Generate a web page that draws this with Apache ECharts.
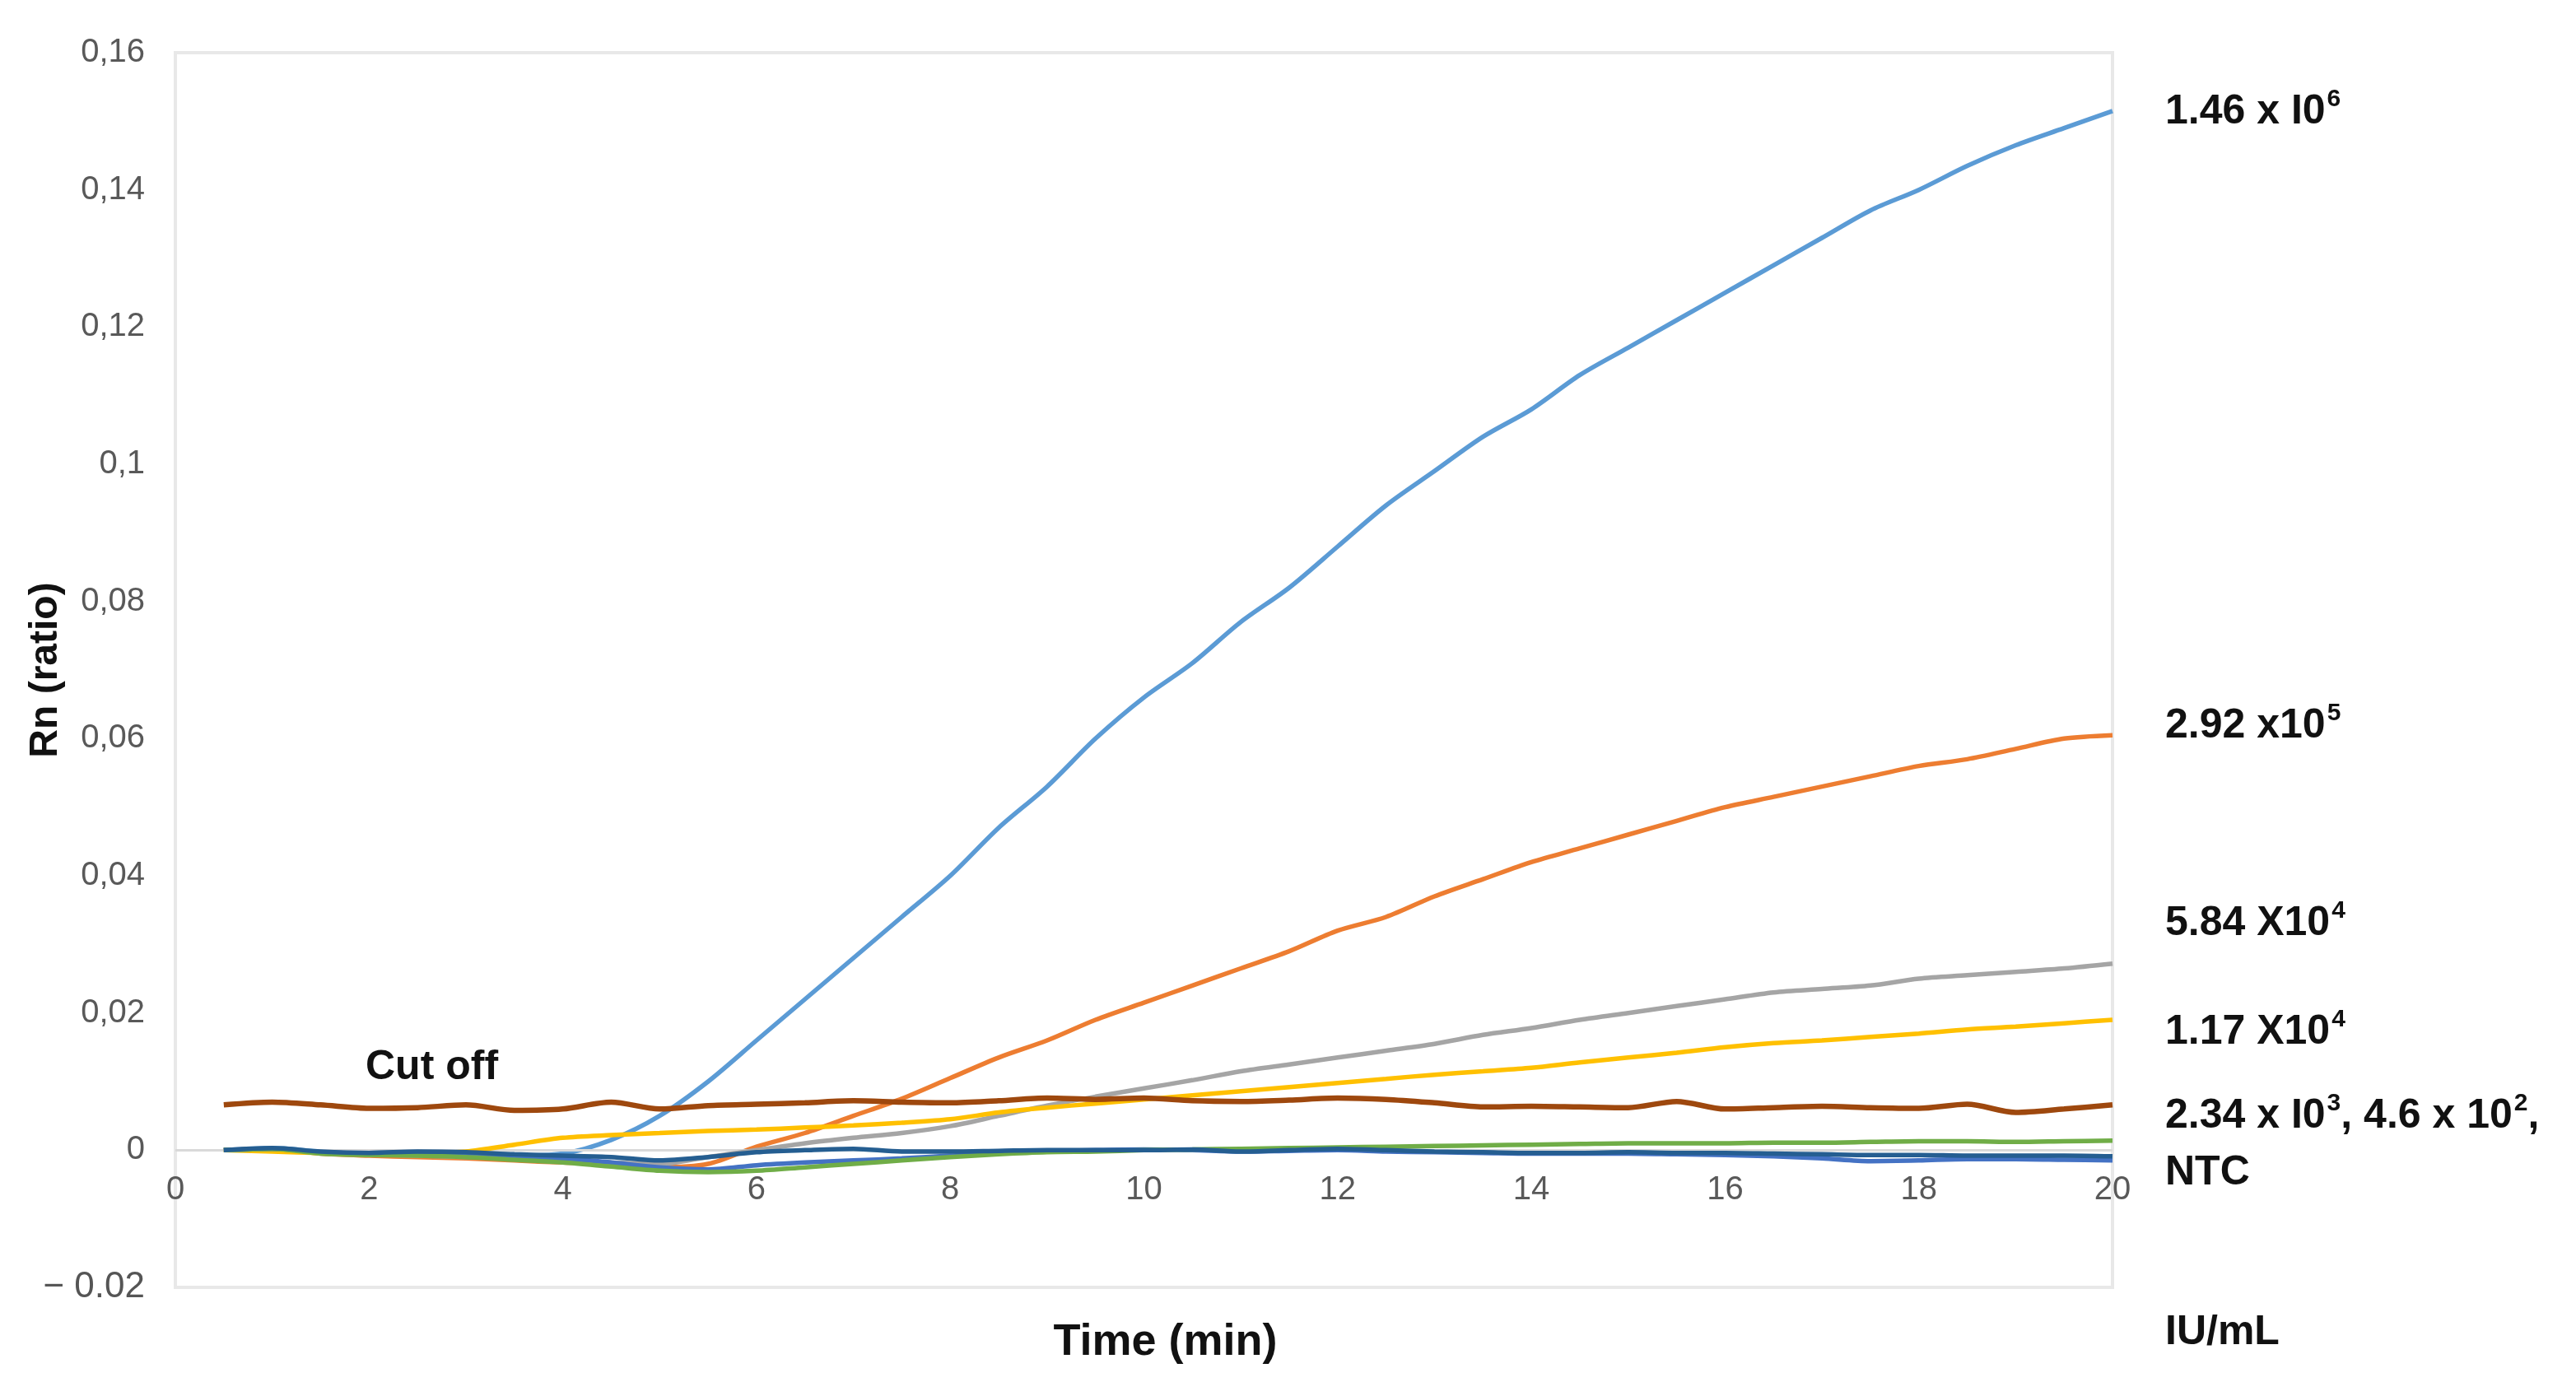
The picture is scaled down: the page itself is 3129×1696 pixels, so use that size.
<!DOCTYPE html>
<html>
<head>
<meta charset="utf-8">
<script src="https://cdn.jsdelivr.net/npm/echarts@6/dist/echarts.min.js"></script>
<style>
html,body{margin:0;padding:0;background:#fff;}
#chart{width:3129px;height:1696px;}
</style>
</head>
<body>
<div id="chart"></div>
<script>
const time = [0.5,1,1.5,2,2.5,3,3.5,4,4.5,5,5.5,6,6.5,7,7.5,8,8.5,9,9.5,10,10.5,11,11.5,12,12.5,13,13.5,14,14.5,15,15.5,16,16.5,17,17.5,18,18.5,19,19.5,20];

const s146e6 = [0,0.0003,-0.0002,-0.0005,-0.0004,-0.0006,-0.0008,-0.0005,0.0015,0.005,0.010,0.016,0.022,0.028,0.034,0.040,0.047,0.053,0.060,0.066,0.071,0.077,0.082,0.088,0.094,0.099,0.104,0.108,0.113,0.117,0.121,0.125,0.129,0.133,0.137,0.140,0.1435,0.1465,0.149,0.1515];
const s292e5 = [0,0.0002,-0.0005,-0.0008,-0.001,-0.0012,-0.0015,-0.0018,-0.002,-0.0025,-0.002,0.0005,0.0025,0.005,0.0075,0.0105,0.0135,0.016,0.019,0.0215,0.024,0.0265,0.029,0.032,0.034,0.037,0.0395,0.042,0.044,0.046,0.048,0.050,0.0515,0.053,0.0545,0.056,0.057,0.0585,0.060,0.0605];
const s584e4 = [0,0.0002,-0.0003,-0.0006,-0.0008,-0.001,-0.0012,-0.0015,-0.0018,-0.002,-0.001,0,0.001,0.0018,0.0025,0.0035,0.005,0.0065,0.0078,0.009,0.0102,0.0115,0.0125,0.0135,0.0145,0.0155,0.0168,0.0178,0.019,0.020,0.021,0.022,0.023,0.0235,0.024,0.025,0.0255,0.026,0.0265,0.0272];
const s117e4 = [0,-0.0002,-0.0004,-0.0005,-0.0004,-0.0002,0.0008,0.0018,0.0022,0.0025,0.0028,0.003,0.0033,0.0036,0.004,0.0045,0.0055,0.0062,0.0068,0.0074,0.008,0.0086,0.0092,0.0098,0.0104,0.011,0.0115,0.012,0.0128,0.0135,0.0142,0.015,0.0156,0.016,0.0165,0.017,0.0176,0.018,0.0185,0.019];
const s234e3 = [0,0.0002,-0.0003,-0.0005,-0.0006,-0.0008,-0.001,-0.0012,-0.0018,-0.0025,-0.0028,-0.0022,-0.0018,-0.0015,-0.0012,-0.0008,-0.0004,-0.0002,0,0.0001,0,-0.0002,-0.0001,0,-0.0002,-0.0003,-0.0004,-0.0005,-0.0005,-0.0005,-0.0006,-0.0007,-0.0009,-0.0012,-0.0016,-0.0015,-0.0013,-0.0013,-0.0014,-0.0015];
const s46e2 = [0,0.0002,-0.0005,-0.0007,-0.0008,-0.001,-0.0014,-0.0018,-0.0024,-0.003,-0.0032,-0.003,-0.0025,-0.002,-0.0015,-0.001,-0.0006,-0.0003,-0.0002,0,0.0001,0.0002,0.0003,0.0004,0.0005,0.0006,0.0007,0.0008,0.0009,0.001,0.001,0.001,0.0011,0.0011,0.0012,0.0013,0.0013,0.0012,0.0013,0.0014];
const sNTC = [0,0.0003,-0.0002,-0.0004,-0.0002,-0.0003,-0.0006,-0.0008,-0.001,-0.0015,-0.001,-0.0003,0,0.0002,-0.0002,-0.0002,-0.0001,0,0,0,0.0001,-0.0002,0,0.0002,0,-0.0002,-0.0003,-0.0004,-0.0004,-0.0003,-0.0004,-0.0004,-0.0005,-0.0006,-0.0007,-0.0007,-0.0008,-0.0008,-0.0008,-0.0009];
const sCutoff = [0.0066,0.007,0.0066,0.0061,0.0062,0.0066,0.0058,0.006,0.007,0.006,0.0065,0.0067,0.0069,0.0072,0.007,0.0069,0.0072,0.0076,0.0074,0.0076,0.0072,0.0071,0.0073,0.0076,0.0074,0.0069,0.0063,0.0064,0.0063,0.0062,0.0071,0.006,0.0062,0.0064,0.0062,0.0061,0.0067,0.0055,0.006,0.0066];

const seriesNames = ['1.46 x 10^6','2.92 x 10^5','5.84 x 10^4','1.17 x 10^4','2.34 x 10^3','4.6 x 10^2','NTC','Cut off'];
const seriesValues = [s146e6, s292e5, s584e4, s117e4, s234e3, s46e2, sNTC, sCutoff];
const seriesColors = ['#5b9bd5','#ed7d31','#a5a5a5','#ffc000','#4472c4','#70ad47','#255e91','#9e480e'];
const seriesWidths = [5.5,5.5,5.5,5.5,5.5,5.5,5.5,6.5];

const xTicks = {min:0, max:20, interval:2};
const yTicks = {min:-0.02, max:0.16, interval:0.02};

const chart = echarts.init(document.getElementById('chart'));

const series = seriesValues.map((vals, i) => ({
  name: seriesNames[i],
  type: 'line',
  data: time.map((t, j) => [t, vals[j]]),
  showSymbol: false,
  smooth: 0.3,
  lineStyle: {color: seriesColors[i], width: seriesWidths[i]},
  itemStyle: {color: seriesColors[i]},
  z: 3 + i,
  animation: false
}));
// zero reference line
series.unshift({
  name: 'zero', type: 'line', data: [], z: 1, silent: true,
  markLine: {
    silent: true, symbol: ['none','none'], label: {show: false},
    lineStyle: {color: '#d9d9d9', width: 3, type: 'solid'},
    data: [{yAxis: 0}], animation: false
  }
});

const labelFont = 'Liberation Sans, Arial, sans-serif';
const rich = {
  b: {fontSize: 50, fontWeight: 'bold', fontFamily: labelFont, color: '#111', lineHeight: 60},
  sup: {fontSize: 30, fontWeight: 'bold', fontFamily: labelFont, color: '#111', lineHeight: 30, verticalAlign: 'top', padding: [0,0,0,2]}
};
function rtext(x, y, text) {
  return {type: 'text', left: x, top: y, z: 100, style: {text: text, rich: rich, font: 'bold 50px ' + labelFont, fill: '#111'}};
}

chart.setOption({
  backgroundColor: '#fff',
  animation: false,
  grid: {left: 213, right: 563, top: 64, bottom: 132, show: true, borderColor: '#e8e8e8', borderWidth: 4, outerBoundsMode: 'none', containLabel: false},
  xAxis: {
    type: 'value', min: xTicks.min, max: xTicks.max, interval: xTicks.interval,
    name: 'Time (min)', nameLocation: 'middle', nameGap: 40, nameMoveOverlap: false,
    nameTextStyle: {fontSize: 54, fontWeight: 'bold', color: '#111', fontFamily: labelFont, padding: [0, 0, 0, 52]},
    axisLine: {show: false, onZero: false},
    axisTick: {show: false},
    splitLine: {show: false},
    axisLabel: {fontSize: 40, color: '#595959', fontFamily: labelFont, margin: -138}
  },
  yAxis: {
    type: 'value', min: yTicks.min, max: yTicks.max, interval: yTicks.interval,
    name: 'Rn (ratio)', nameLocation: 'middle', nameGap: 133, nameRotate: 90, nameMoveOverlap: false,
    nameTextStyle: {fontSize: 48, fontWeight: 'bold', color: '#111', fontFamily: labelFont},
    axisLine: {show: false, onZero: false},
    axisTick: {show: false},
    splitLine: {show: false},
    axisLabel: {
      fontSize: 40, color: '#595959', fontFamily: labelFont, margin: 37,
      formatter: function (v) {
        const r = Math.round(v * 100) / 100;
        if (r < 0) return '{neg|\u2212 ' + Math.abs(r).toFixed(2) + '}';
        return String(r).replace('.', ',');
      },
      rich: {neg: {fontSize: 44, color: '#555', fontFamily: labelFont}}
    }
  },
  series: series,
  graphic: [
    rtext(2630, 106, '{b|1.46 x I0}{sup|6}'),
    rtext(2630, 852, '{b|2.92 x10}{sup|5}'),
    rtext(2630, 1092, '{b|5.84 X10}{sup|4}'),
    rtext(2630, 1224, '{b|1.17 X10}{sup|4}'),
    rtext(2630, 1326, '{b|2.34 x I0}{sup|3}{b|, 4.6 x 10}{sup|2}{b|,}'),
    rtext(2630, 1400, '{b|NTC}'),
    rtext(2630, 1594, '{b|IU/mL}'),
    {type: 'text', left: 444, top: 1272, z: 100, style: {text: 'Cut off', font: 'bold 50px ' + labelFont, fill: '#111'}}
  ]
});
</script>
</body>
</html>
